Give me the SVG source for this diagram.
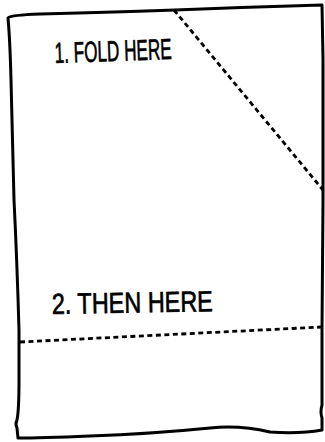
<svg xmlns="http://www.w3.org/2000/svg" width="325" height="442" viewBox="0 0 325 442">
<style>
.edge{fill:none;stroke:#000;stroke-width:3;stroke-linecap:round;stroke-linejoin:round}
.fold{fill:none;stroke:#000;stroke-width:2.8;stroke-dasharray:5 3.5}
.lbl{font-family:"Liberation Sans","DejaVu Sans",sans-serif;fill:#000;stroke:#000;stroke-width:0.7}
</style>
<rect width="325" height="442" fill="#fff"/>
<g id="paper">
<path class="edge" d="M8,18 Q10,15 40,14 Q120,12 175,10 Q250,7 322,5 L323,60 L323,200 L322,330 L322,405 Q320,412 322,418 L322,430 Q300,434 270,432 Q240,425 210,428 Q150,434 90,436 Q40,438 18,438 L17,428 Q15,424 17,420 Q19,410 19,380 L19,330 Q17,260 14,200 Q12,120 11,80 Q10,40 8,18 Z"/>
</g>
<g id="connectors">
<path id="fold1" class="fold" d="M174,10 L323,190"/>
<path id="fold2" class="fold" d="M20,342 L322,327"/>
</g>
<g id="label1">
<text class="lbl" x="55" y="63" font-size="29" textLength="117" lengthAdjust="spacingAndGlyphs" transform="rotate(-2 55 63)">1. FOLD HERE</text>
</g>
<g id="label2">
<text class="lbl" x="52" y="314" font-size="29" textLength="161" lengthAdjust="spacingAndGlyphs" transform="rotate(-1 52 314)">2. THEN HERE</text>
</g>
</svg>
